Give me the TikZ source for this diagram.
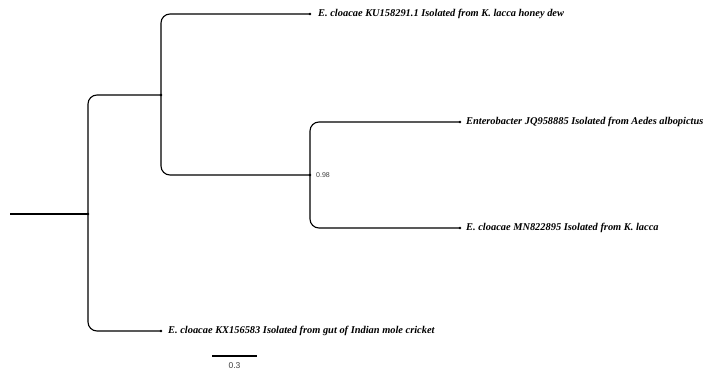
\documentclass[tikz,border=0pt]{standalone}
\usepackage{fontspec}
\setmainfont{Liberation Serif}
\setsansfont{Liberation Sans}
\usetikzlibrary{positioning}

\begin{document}
\begin{tikzpicture}[x=1pt,y=-1pt,
  branch/.style={line width=1.1pt,rounded corners=9pt},
  taxon/.style={anchor=west,inner sep=0pt,font=\fontsize{10.4}{12}\selectfont\bfseries\itshape},
  support/.style={anchor=west,inner sep=0pt,font=\sffamily\fontsize{7}{8}\selectfont,text=black!75}]
\fill[white] (0,0) rectangle (703,370);
\useasboundingbox (0,0) rectangle (703,370);

% internal nodes
\coordinate (root) at (10,214);
\coordinate (nA) at (88,214);
\coordinate (nB) at (161,95);
\coordinate (nC) at (310,175);

% leaf tips
\coordinate (t1) at (310,14);
\coordinate (t2) at (460,122);
\coordinate (t3) at (460,228);
\coordinate (t4) at (161,331);

\node[taxon] (l1) at (318,14) {E. cloacae KU158291.1 Isolated from K. lacca honey dew};
\node[taxon] (l2) at (466,122) {Enterobacter JQ958885 Isolated from Aedes albopictus};
\node[taxon] (l3) at (466,228) {E. cloacae MN822895 Isolated from K. lacca};
\node[taxon] (l4) at (168,331) {E. cloacae KX156583 Isolated from gut of Indian mole cricket};
\node[support] (s1) at (316,175) {0.98};

\draw[branch] (root) -- (nA);
\draw[branch] (nA) |- (nB);
\draw[branch] (nA) |- (t4);
\draw[branch] (nB) |- (t1);
\draw[branch] (nB) |- (nC);
\draw[branch] (nC) |- (t2);
\draw[branch] (nC) |- (t3);
\foreach \p in {nA,nB,nC,t1,t2,t3,t4}{\fill (\p) circle (1.4pt);}

% scale bar
\coordinate (sb1) at (212,356);
\coordinate (sb2) at (257,356);
\draw[line width=1.6pt] (sb1) -- (sb2);
\node[font=\sffamily\fontsize{8.5}{10}\selectfont,text=black!75] (sbl) at (234.5,366) {0.3};
\end{tikzpicture}
\end{document}
